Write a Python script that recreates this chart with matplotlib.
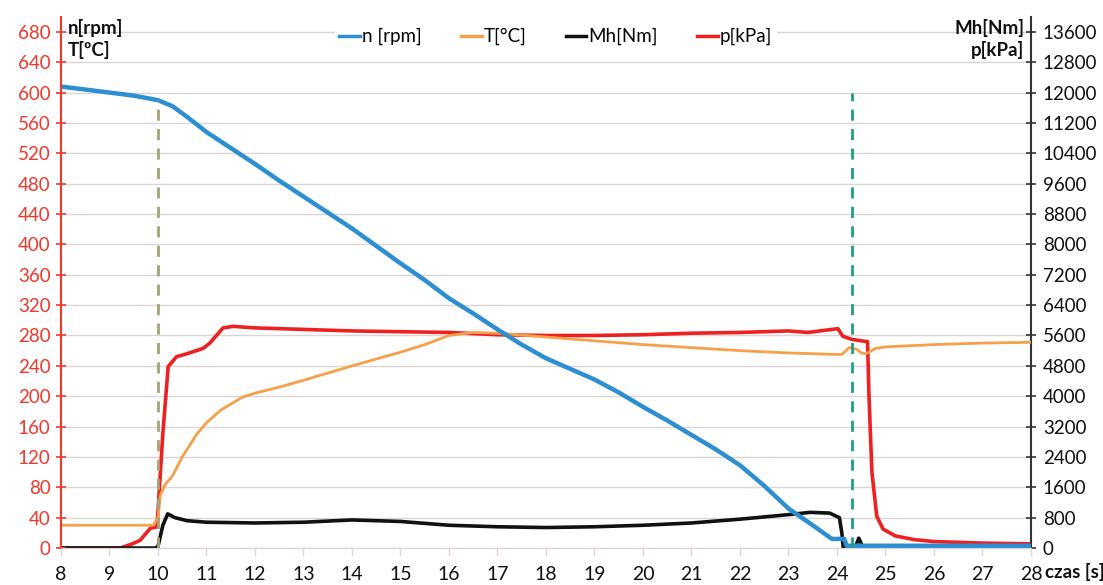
import matplotlib
matplotlib.use("Agg")
import matplotlib.pyplot as plt
from matplotlib.lines import Line2D

plt.rcParams['font.family'] = ['Lato', 'DejaVu Sans']

# n [rpm] (left axis)
t_n = [8, 8.5, 9, 9.5, 10, 10.3, 10.6, 11, 11.5, 12, 12.5, 13, 13.5, 14, 14.5, 15,
       15.5, 16, 16.5, 17, 17.5, 18, 18.5, 19, 19.5, 20, 20.5, 21, 21.5, 22, 22.5,
       23, 23.5, 23.85, 23.9, 24.15, 24.2, 28]
n_rpm = [608, 604, 600, 596, 590, 582, 568, 548, 527, 506, 484, 463, 442, 421, 398, 375,
         353, 329, 309, 288, 268, 250, 236, 222, 205, 186, 168, 149, 130, 109, 82,
         52, 30, 14, 12, 12, 3, 3]

# T [°C] (left axis)
t_T = [8, 9.9, 10.0, 10.05, 10.15, 10.3, 10.5, 10.8, 11, 11.3, 11.75, 12, 12.5, 13, 14,
       15, 15.5, 16, 16.5, 17, 18, 19, 20, 21, 22, 23, 24, 24.1, 24.25, 24.4, 24.5,
       24.6, 24.8, 25, 26, 27, 28]
T_c = [30, 30, 40, 70, 84, 95, 120, 150, 165, 182, 199, 204, 212, 221, 240,
       258, 268, 280, 284, 283, 278, 273, 268, 264, 260, 257, 255, 255, 264, 262, 257,
       256, 263, 265, 268, 270, 271]

# Mh [Nm] (right axis)
t_m = [8, 9.95, 10.0, 10.1, 10.2, 10.35, 10.6, 11, 12, 13, 14, 15, 16, 17, 18, 19, 20,
       21, 22, 23, 23.45, 23.85, 24.05, 24.1, 24.13, 24.37, 24.45, 24.54]
mh_nm = [0, 0, 40, 600, 900, 800, 720, 680, 660, 680, 740, 700, 600, 560, 540, 560, 600,
         660, 760, 880, 940, 920, 800, 400, 0, 0, 260, 0]

# p [kPa] (right axis)
t_p = [8, 9.22, 9.45, 9.63, 9.84, 9.98, 10.1, 10.21, 10.38, 10.6, 10.93, 11.07, 11.34,
       11.55, 12, 13, 14, 15, 16, 17, 18, 19, 20, 21, 22, 23, 23.4, 24.02, 24.12, 24.3,
       24.6, 24.63, 24.66, 24.72, 24.82, 24.95, 25.2, 25.6, 26, 27, 28]
p_kpa = [0, 0, 100, 200, 520, 560, 3020, 4780, 5040, 5120, 5260, 5400, 5800,
         5840, 5800, 5760, 5720, 5700, 5680, 5620, 5600, 5600, 5620, 5660, 5680, 5720, 5680, 5780, 5580, 5500,
         5440, 5440, 4000, 2000, 840, 500, 320, 220, 170, 130, 110]

# event markers (time, height on left axis)
t_start, h_start = 10.0, 590
t_stop, h_stop = 24.3, 600

x_ticks = list(range(8, 29))
left_ticks = list(range(0, 681, 40))
right_ticks = list(range(0, 13601, 800))

fig = plt.figure(figsize=(11.03, 5.85), dpi=100)
ax = fig.add_axes([0.0553, 0.0632, 0.8794, 0.9083])
ax2 = ax.twinx()
ax.set_zorder(2)
ax.patch.set_visible(False)
ax2.set_zorder(1)

grid_c = '#dcd6d2'
ax2.set_axisbelow(True)
ax2.grid(True, color=grid_c, lw=1.0)
ax2.set_xticks(x_ticks)
ax2.set_yticks(right_ticks)

c_n, c_T, c_m, c_p = '#2d8fd2', '#f7a04a', '#111111', '#ee2020'

ax2.plot(t_p, p_kpa, color=c_p, lw=2.6)
ax2.plot(t_m, mh_nm, color=c_m, lw=2.6)
ax.plot(t_T, T_c, color=c_T, lw=2.0)
ax.plot(t_n, n_rpm, color=c_n, lw=3.2)

ax.vlines(t_start, 0, h_start, colors='#a3a474', linestyles=(0, (4, 3)), lw=2)
ax.vlines(t_stop, 0, h_stop, colors='#1f9e88', linestyles=(0, (4, 3)), lw=2)

ax.set_xlim(8, 28)
ax.set_ylim(0, 700)
ax2.set_ylim(0, 14000)
ax.set_xticks(x_ticks)
ax.set_yticks(left_ticks)

red_lbl = '#f5372a'
ax.tick_params(axis='y', colors=red_lbl, labelsize=13.5, direction='inout', length=7,
               width=1.2, pad=4)
ax.tick_params(axis='x', colors=grid_c, labelcolor='#111111', labelsize=14, length=6,
               width=1, pad=7)
ax2.tick_params(axis='y', colors='#333333', labelcolor='#111111', labelsize=13.5,
                direction='inout', length=7, width=1.2, pad=5)
ax2.tick_params(axis='x', length=0)

for a in (ax, ax2):
    a.spines['top'].set_visible(False)
    a.spines['bottom'].set_color(grid_c)
ax.spines['left'].set_color(red_lbl)
ax.spines['left'].set_linewidth(1.5)
ax.spines['right'].set_visible(False)
ax2.spines['left'].set_visible(False)
ax2.spines['right'].set_color('#333333')
ax2.spines['right'].set_linewidth(1.5)

ax.text(0.007, 0.996, 'n[rpm]\nT[ºC]', transform=ax.transAxes, ha='left', va='top',
        fontsize=13.5, fontweight='bold', color='#111111', linespacing=1.3)
ax.text(0.993, 0.996, 'Mh[Nm]\np[kPa]', transform=ax.transAxes, ha='right', va='top',
        fontsize=13.5, fontweight='bold', color='#111111', linespacing=1.3)
fig.text(0.947, 0.022, 'czas [s]', ha='left', va='center', fontsize=13.5,
         fontweight='bold', color='#111111')

handles = [Line2D([], [], color=c, lw=2.5) for c in (c_n, c_T, c_m, c_p)]
labels = ['n [rpm]', 'T[°C]', 'Mh[Nm]', 'p[kPa]']
leg = ax.legend(handles, labels, loc='upper center', bbox_to_anchor=(0.51, 1.005), ncol=4,
                fontsize=13.5, frameon=True, facecolor='white', edgecolor='none',
                framealpha=1, handlelength=1.1, handletextpad=0.1, columnspacing=2.1,
                borderpad=0.25, fancybox=False)

fig.savefig('out.png', dpi=100)
